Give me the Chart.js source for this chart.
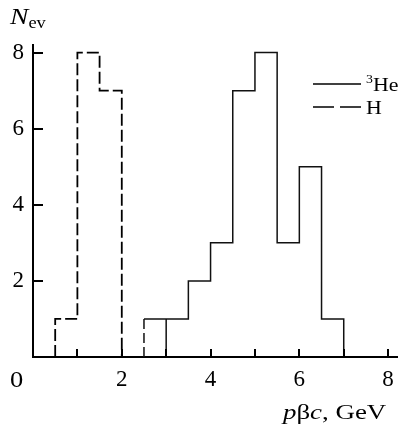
<!DOCTYPE html>
<html>
<head>
<meta charset="utf-8">
<script src="https://cdn.jsdelivr.net/npm/chart.js@4.4.1/dist/chart.umd.min.js"></script>
<style>
  html, body { margin: 0; padding: 0; background: #fff; }
</style>
</head>
<body>
<canvas id="chart" width="415" height="426"></canvas>
<script>
// bin edges (GeV) and event counts
const hEdges = [0.5, 1, 1.5, 2];
const hCounts = [1, 8, 7];
const heEdges = [2.5, 3, 3.5, 4, 4.5, 5, 5.5, 6, 6.5, 7];
const heCounts = [1, 1, 2, 3, 7, 8, 3, 5, 1];

const xTickLabels = ["2", "4", "6", "8"];
const yTickLabels = ["2", "4", "6", "8"];
const seriesNames = ["He", "H"];
const seriesSup = ["3", ""];

const serif = "'Liberation Serif', 'DejaVu Serif', serif";

// histogram outline; an edge between two equal bins goes down to zero
const outline = (edges, counts) => {
  const pts = [];
  edges.forEach((e, i) => {
    const prev = i > 0 ? counts[i - 1] : 0;
    const next = i < counts.length ? counts[i] : 0;
    pts.push({ x: e, y: prev });
    if (prev === next && prev > 0) pts.push({ x: e, y: 0 }, { x: e, y: next });
    else pts.push({ x: e, y: next });
  });
  return pts;
};

// the scanned figure has slightly wide lettering
const wideText = (ctx, s, x, y, font, sx = 1.2) => {
  ctx.save();
  ctx.font = font;
  const w = ctx.measureText(s).width * sx;
  ctx.translate(x, y);
  ctx.scale(sx, 1);
  ctx.fillText(s, 0, 0);
  ctx.restore();
  return w;
};

const legendDash = [[], [21, 6]];

const decor = {
  id: "decor",
  afterDraw(chart) {
    const { ctx, chartArea: a, scales: { x, y } } = chart;
    ctx.save();
    ctx.strokeStyle = "#000";
    ctx.fillStyle = "#000";

    // inward ticks
    ctx.lineWidth = 2;
    x.ticks.forEach(t => {
      if (t.value <= 0) return;
      const px = Math.round(x.getPixelForValue(t.value));
      ctx.beginPath(); ctx.moveTo(px, a.bottom); ctx.lineTo(px, a.bottom - 8); ctx.stroke();
    });
    y.ticks.forEach(t => {
      if (t.value <= 0) return;
      const py = Math.round(y.getPixelForValue(t.value));
      ctx.beginPath(); ctx.moveTo(a.left, py); ctx.lineTo(a.left + 10, py); ctx.stroke();
    });

    ctx.textAlign = "left";
    ctx.textBaseline = "alphabetic";

    // shared zero in the corner
    wideText(ctx, "0", 10, a.bottom + 30, "23px " + serif, 1.15);

    // y title N_ev
    const nw = wideText(ctx, "N", 10, 24, "italic 23px " + serif, 1.2);
    wideText(ctx, "ev", 10 + nw, 28, "16px " + serif, 1.15);

    // x title pβc, GeV
    let cx = 283;
    const parts = [["p", true], ["β", false], ["c", true], [", GeV", false]];
    parts.forEach(([s, it]) => {
      cx += wideText(ctx, s, cx, 419, (it ? "italic " : "") + "21px " + serif, 1.28);
    });

    // legend
    const rows = [84, 107];
    chart.data.datasets.forEach((ds, i) => {
      ctx.lineWidth = 1.5;
      ctx.setLineDash(legendDash[i]);
      ctx.beginPath(); ctx.moveTo(313, rows[i]); ctx.lineTo(361, rows[i]); ctx.stroke();
      ctx.setLineDash([]);
      let tx = 366;
      if (seriesSup[i]) tx += wideText(ctx, seriesSup[i], tx, rows[i] - 1, "12px " + serif, 1.15);
      wideText(ctx, seriesNames[i], tx, rows[i] + 7, "19px " + serif, 1.15);
    });
    ctx.restore();
  }
};

new Chart(document.getElementById("chart"), {
  type: "line",
  data: {
    datasets: [
      {
        label: seriesNames[0],
        data: outline(heEdges, heCounts),
        borderColor: "#111",
        borderWidth: 1.5,
        pointRadius: 0,
        segment: { borderDash: c => (c.p0DataIndex === 0 ? [10, 4] : undefined) }
      },
      {
        label: seriesNames[1],
        data: outline(hEdges, hCounts),
        borderColor: "#000",
        borderWidth: 1.8,
        borderDash: [12, 4],
        pointRadius: 0
      }
    ]
  },
  options: {
    responsive: false,
    animation: false,
    layout: { padding: { top: 45, right: 18, left: 0, bottom: 0 } },
    plugins: { legend: { display: false }, tooltip: { enabled: false } },
    scales: {
      x: {
        type: "linear",
        min: 0,
        max: 8.2,
        afterFit: s => { s.height = 69; },
        border: { display: true, color: "#000", width: 2 },
        grid: { display: true, drawOnChartArea: false, drawTicks: false },
        ticks: {
          stepSize: 1,
          includeBounds: false,
          maxRotation: 0,
          autoSkip: false,
          padding: 9,
          color: "#000",
          font: { family: serif, size: 23 },
          callback: v => (xTickLabels.includes(String(v)) ? String(v) : "")
        }
      },
      y: {
        min: 0,
        max: 8.2,
        afterFit: s => { s.width = 33; },
        border: { display: true, color: "#000", width: 2 },
        grid: { display: true, drawOnChartArea: false, drawTicks: false },
        ticks: {
          stepSize: 2,
          includeBounds: false,
          padding: 9,
          color: "#000",
          font: { family: serif, size: 23 },
          callback: v => (yTickLabels.includes(String(v)) ? String(v) : "")
        }
      }
    }
  },
  plugins: [decor]
});
</script>
</body>
</html>
